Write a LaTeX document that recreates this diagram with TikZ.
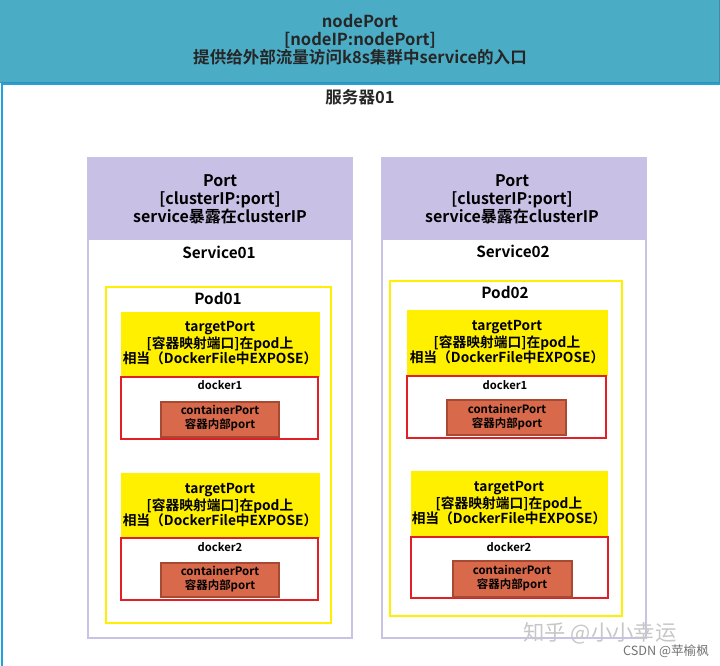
\documentclass[tikz,border=0pt]{standalone}
\usepackage{fontspec}
\setmainfont{Noto Sans CJK SC}[BoldFont={Noto Sans CJK SC Bold}]
\definecolor{teal1}{HTML}{4BACC6}
\definecolor{teal2}{HTML}{3A8FA6}
\definecolor{serverblue}{HTML}{1CA3E0}
\definecolor{svcpurple}{HTML}{C9C0E5}
\definecolor{svcborder}{HTML}{C8C3E6}
\definecolor{podyellow}{HTML}{FFF000}
\definecolor{dockred}{HTML}{E31E24}
\definecolor{cfill}{HTML}{D8694A}
\definecolor{cborder}{HTML}{A84A33}
\tikzset{
  band/.style={fill=teal1,draw=teal2,line width=1pt},
  svcbox/.style={draw=svcborder,line width=1.5pt,fill=white},
  svchead/.style={fill=svcpurple},
  podbox/.style={draw=podyellow,line width=1.6pt},
  tpbox/.style={fill=podyellow},
  dockbox/.style={draw=dockred,line width=1.6pt,fill=white},
  cbox/.style={fill=cfill,draw=cborder,line width=0.8pt},
  bigtxt/.style={align=center,font=\bfseries\fontsize{12.4}{13.5}\selectfont,inner sep=0pt,text=black!85},
  headtxt/.style={align=center,font=\bfseries\fontsize{12}{13.5}\selectfont,inner sep=0pt},
  lbltxt/.style={align=center,font=\bfseries\fontsize{11.5}{13.5}\selectfont,inner sep=0pt},
  tptxt/.style={align=center,font=\bfseries\fontsize{10.3}{11.3}\selectfont,inner sep=0pt},
  docktxt/.style={align=center,font=\bfseries\fontsize{8.4}{10}\selectfont,inner sep=0pt},
  ctxt/.style={align=center,font=\bfseries\fontsize{8.6}{10.3}\selectfont,inner sep=0pt},
}
\begin{document}
\begin{tikzpicture}[x=0.75pt,y=-0.75pt]
\useasboundingbox[fill=white] (0,0) rectangle (720,666);
% top band
\draw[band] (-1,-1) rectangle (720,82.5);
\node[bigtxt] (np) at (360,40) {nodePort\\{}[nodeIP:nodePort]\\提供给外部流量访问k8s集群中service的入口};
% server box
\draw[serverblue,line width=1.5pt] (2,667) -- (2,84.5) -- (721,84.5);
\node[bigtxt] (srv) at (360,97) {服务器01};

% ---------- Service01 ----------
\draw[svcbox] (88,158) rectangle (352,638);
\fill[svchead] (88,158) rectangle (352,240);
\node[headtxt] (port1) at (220,199) {Port\\{}[clusterIP:port]\\service暴露在clusterIP};
\node[lbltxt] (svc1) at (219,252) {Service01};
\draw[podbox] (106,287) rectangle (331,623);
\node[lbltxt] (pod1) at (218,298) {Pod01};
% pod01 docker1
\fill[tpbox] (121,312) rectangle (320,377);
\node[tptxt] (tp11) at (220,343) {targetPort\\{}[容器映射端口]在pod上\\相当（DockerFile中EXPOSE）};
\draw[dockbox] (121,377) rectangle (318,439);
\node[docktxt] (d11) at (220,385) {docker1};
\draw[cbox] (161,402) rectangle (279,437);
\node[ctxt] (c11) at (220,418) {containerPort\\容器内部port};
% pod01 docker2
\fill[tpbox] (121,473) rectangle (320,538);
\node[tptxt] (tp12) at (220,505) {targetPort\\{}[容器映射端口]在pod上\\相当（DockerFile中EXPOSE）};
\draw[dockbox] (121,538) rectangle (318,600);
\node[docktxt] (d12) at (220,547) {docker2};
\draw[cbox] (161,563) rectangle (279,597);
\node[ctxt] (c12) at (220,579) {containerPort\\容器内部port};

% ---------- Service02 ----------
\draw[svcbox] (382,158) rectangle (646,638);
\fill[svchead] (382,158) rectangle (646,240);
\node[headtxt] (port2) at (512,199) {Port\\{}[clusterIP:port]\\service暴露在clusterIP};
\node[lbltxt] (svc2) at (513,251) {Service02};
\draw[podbox] (390,281) rectangle (622,616);
\node[lbltxt] (pod2) at (505,292) {Pod02};
% pod02 docker1
\fill[tpbox] (407,310) rectangle (608,376);
\node[tptxt] (tp21) at (507,342) {targetPort\\{}[容器映射端口]在pod上\\相当（DockerFile中EXPOSE）};
\draw[dockbox] (407,376) rectangle (606,438);
\node[docktxt] (d21) at (505,385) {docker1};
\draw[cbox] (447,400) rectangle (566,435);
\node[ctxt] (c21) at (507,417) {containerPort\\容器内部port};
% pod02 docker2
\fill[tpbox] (411,471) rectangle (608,537);
\node[tptxt] (tp22) at (509,503) {targetPort\\{}[容器映射端口]在pod上\\相当（DockerFile中EXPOSE）};
\draw[dockbox] (411,537) rectangle (608,598);
\node[docktxt] (d22) at (509,547) {docker2};
\draw[cbox] (453,561) rectangle (572,597);
\node[ctxt] (c22) at (512,578) {containerPort\\容器内部port};

% watermarks
\node[inner sep=0pt,text=black!22,font=\fontsize{16}{16}\selectfont] (wm1) at (600,633) {知乎 @小小幸运};
\node[inner sep=0pt,text=black!55,font=\fontsize{9.5}{10}\selectfont] (wm2) at (666,651) {CSDN @苹榆枫};
\end{tikzpicture}
\end{document}
